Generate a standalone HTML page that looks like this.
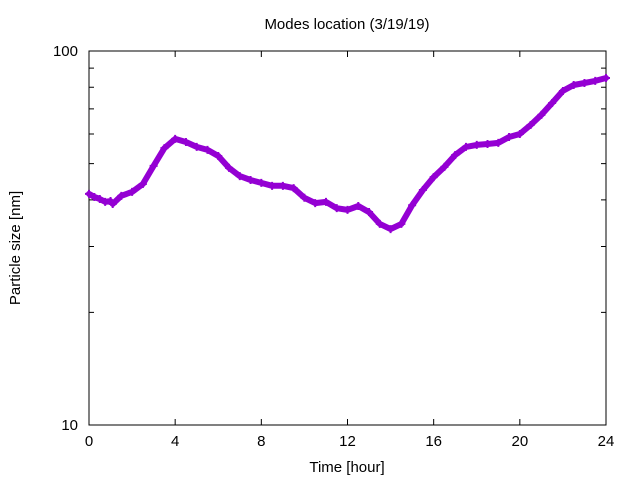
<!DOCTYPE html>
<html><head><meta charset="utf-8"><style>
body{margin:0;background:#fff;}
svg{display:block;font-family:"Liberation Sans",sans-serif;}
</style></head><body>
<svg id="chart" width="640" height="480" viewBox="0 0 640 480"></svg>
<script>
const times=[0,0.25,0.5,0.75,1,1.1,1.5,2,2.5,3,3.5,4,4.5,5,5.5,6,6.5,7,7.5,8,8.5,9,9.5,10,10.5,11,11.5,12,12.5,13,13.5,14,14.5,15,15.5,16,16.5,17,17.5,18,18.5,19,19.5,20,20.5,21,21.5,22,22.5,23,23.5,24];
const sizes=[41.5,40.7,40.2,39.5,39.7,39.0,41.0,42.0,44.1,49.3,55.0,58.2,57.1,55.4,54.4,52.4,48.7,46.3,45.2,44.4,43.6,43.6,43.0,40.5,39.2,39.5,38.0,37.6,38.5,37.1,34.5,33.4,34.5,38.7,42.5,46.0,49.0,52.7,55.4,56.1,56.4,56.8,58.9,60.0,63.4,67.5,72.6,78.2,81.1,82.1,83.2,84.7];
const xTicks=[0,4,8,12,16,20,24];
const yTicks=[10,100];
const yMinor=[20,30,40,50,60,70,80,90];
const L=89,R=606,T=51,B=425;
const sx=h=>L+(h/24)*(R-L);
const sy=v=>B-(Math.log10(v)-1)*(B-T);
const svg=document.getElementById('chart');
const NS='http://www.w3.org/2000/svg';
function mk(tag,attrs,parent){const e=document.createElementNS(NS,tag);for(const k in attrs)e.setAttribute(k,attrs[k]);(parent||svg).appendChild(e);return e;}
const frame=mk('rect',{x:L,y:T,width:R-L,height:B-T,fill:'none',stroke:'#000','stroke-width':1});


xTicks.forEach(t=>{
  const x=sx(t);
  const a=mk('path',{d:`M${x},${B}v-6M${x},${T}v6`,stroke:'#000'});
  
  
  const tx=mk('text',{x:x,y:B+21,'text-anchor':'middle','font-size':15});
  tx.textContent=t;
  
  
});
yTicks.forEach(v=>{
  const y=sy(v);
  const a=mk('path',{d:`M${L},${y}h9M${R},${y}h-9`,stroke:'#000'});
  
  
  const tx=mk('text',{x:L-11,y:y+5,'text-anchor':'end','font-size':15});
  tx.textContent=v;
  
  
});
yMinor.forEach(v=>{
  const y=sy(v);
  const a=mk('path',{d:`M${L},${y}h5M${R},${y}h-5`,stroke:'#000'});
  
  
});
const t1=mk('text',{x:347,y:29,'text-anchor':'middle','font-size':15});
t1.textContent='Modes location (3/19/19)';


const t2=mk('text',{x:347,y:472,'text-anchor':'middle','font-size':15});
t2.textContent='Time [hour]';


const t3=mk('text',{x:20,y:248,'text-anchor':'middle','font-size':15,transform:'rotate(-90 20 248)'});
t3.textContent='Particle size [nm]';


let d='';
times.forEach((t,i)=>{d+=(i?'L':'M')+sx(t).toFixed(1)+','+sy(sizes[i]).toFixed(1);});
const line=mk('path',{d:d,fill:'none',stroke:'#9400d3','stroke-width':6,'stroke-linejoin':'round','stroke-linecap':'round'});


times.forEach((t,i)=>{
  const x=sx(t),y=sy(sizes[i]);
  const p=mk('path',{d:`M${x-4},${y}h8M${x},${y-4}v8`,stroke:'#9400d3','stroke-width':2});
  
  
});
</script>
</body></html>
